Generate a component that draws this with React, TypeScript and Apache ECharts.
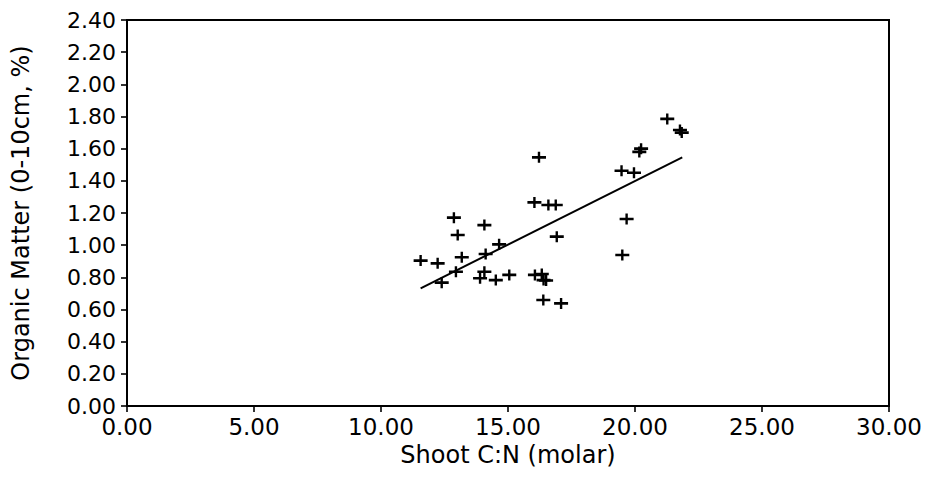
import React, { useEffect, useRef } from "react";
import * as echarts from "echarts";

const shootCN = [
  21.27, 21.77, 21.84, 20.24, 20.17, 19.47, 19.96, 16.22, 16.04, 16.59, 16.88,
  19.67, 19.5, 16.92, 12.87, 13.02, 14.07, 14.65, 14.12, 13.18, 11.56, 12.23,
  12.95, 12.39, 14.07, 13.9, 14.52, 15.05, 16.06, 16.33, 16.4, 16.5, 16.39, 17.09,
];
const organicMatter = [
  1.785, 1.716, 1.7, 1.6, 1.58, 1.463, 1.45, 1.546, 1.266, 1.25, 1.25, 1.163,
  0.939, 1.053, 1.171, 1.063, 1.125, 1.005, 0.945, 0.925, 0.904, 0.887, 0.835,
  0.767, 0.835, 0.794, 0.783, 0.815, 0.815, 0.821, 0.783, 0.78, 0.659, 0.638,
];
const fitX = [11.56, 21.86];
const fitY = [0.732, 1.546];

const xTickLabels = ["0.00", "5.00", "10.00", "15.00", "20.00", "25.00", "30.00"];
const yTickLabels = [
  "0.00", "0.20", "0.40", "0.60", "0.80", "1.00", "1.20",
  "1.40", "1.60", "1.80", "2.00", "2.20", "2.40",
];

const PLUS = "path://M0,3.8h14v2.4h-14z M5.8,0h2.4v10h-2.4z";

export default function App() {
  const ref = useRef<HTMLDivElement>(null);
  useEffect(() => {
    if (!ref.current) return;
    const chart = echarts.init(ref.current, undefined, { renderer: "svg" });
    const font = "DejaVu Sans";
    chart.setOption({
      animation: false,
      backgroundColor: "#ffffff",
      grid: {
        left: 127,
        top: 20,
        right: 40,
        bottom: 75,
        show: true,
        borderColor: "#000",
        borderWidth: 2,
        backgroundColor: "transparent",
      },
      xAxis: {
        type: "value",
        min: 0,
        max: 30,
        interval: 5,
        name: "Shoot C:N (molar)",
        nameLocation: "middle",
        nameGap: 37,
        nameTextStyle: { fontFamily: font, fontSize: 24, color: "#000" },
        axisLine: { show: true, onZero: false, lineStyle: { color: "#000", width: 2 } },
        axisTick: { show: true, inside: false, length: 6, lineStyle: { color: "#000", width: 1.6 } },
        axisLabel: {
          color: "#000",
          fontFamily: font,
          fontSize: 23,
          margin: 9,
          showMinLabel: true,
          showMaxLabel: true,
          formatter: (v: number) => xTickLabels[Math.round(v / 5)] ?? v.toFixed(2),
        },
        splitLine: { show: false },
      },
      yAxis: {
        type: "value",
        min: 0,
        max: 2.4,
        interval: 0.2,
        name: "Organic Matter (0-10cm, %)",
        nameLocation: "middle",
        nameGap: 94,
        nameTextStyle: { fontFamily: font, fontSize: 24, color: "#000" },
        axisLine: { show: true, onZero: false, lineStyle: { color: "#000", width: 2 } },
        axisTick: { show: true, inside: false, length: 6, lineStyle: { color: "#000", width: 1.6 } },
        axisLabel: {
          color: "#000",
          fontFamily: font,
          fontSize: 22,
          margin: 11,
          showMinLabel: true,
          showMaxLabel: true,
          formatter: (v: number) => yTickLabels[Math.round(v / 0.2)] ?? v.toFixed(2),
        },
        splitLine: { show: false },
      },
      series: [
        {
          type: "line",
          data: fitX.map((x, i) => [x, fitY[i]]),
          showSymbol: false,
          symbol: "none",
          lineStyle: { color: "#000", width: 2 },
          z: 2,
        },
        {
          type: "scatter",
          data: shootCN.map((x, i) => [x, organicMatter[i]]),
          symbol: PLUS,
          symbolSize: [14, 11],
          itemStyle: { color: "#000", opacity: 1 },
          z: 3,
        },
      ],
    });
    return () => chart.dispose();
  }, []);
  return (
    <div
      ref={ref}
      style={{ position: "fixed", left: 0, top: 0, width: 929, height: 481, background: "#fff" }}
    />
  );
}
